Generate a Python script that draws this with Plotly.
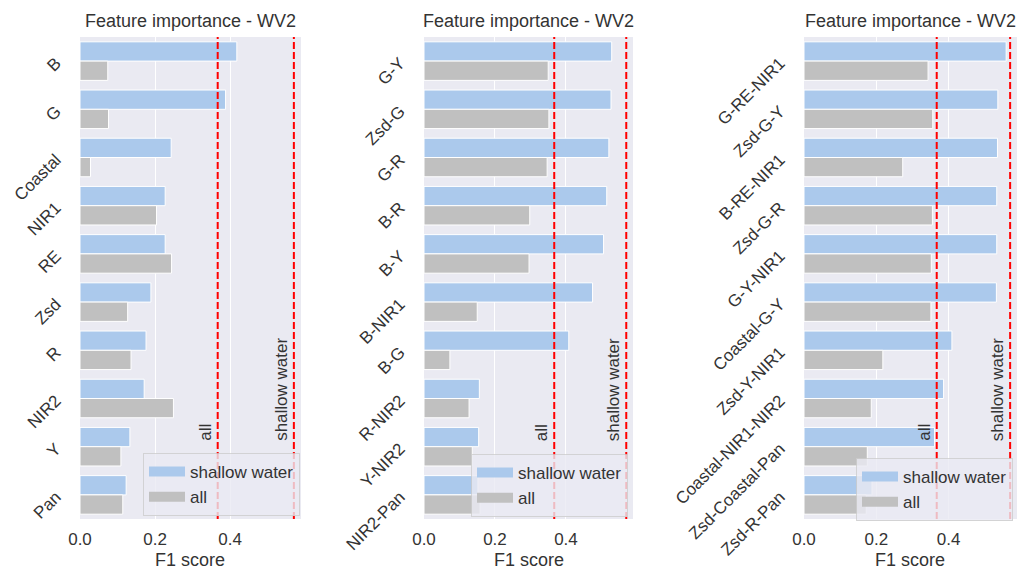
import plotly.graph_objects as go

# ---- data -------------------------------------------------------------
p1_features = ["B", "G", "Coastal", "NIR1", "RE", "Zsd", "R", "NIR2", "Y", "Pan"]
p1_shallow = [0.418, 0.388, 0.243, 0.227, 0.227, 0.189, 0.176, 0.171, 0.133, 0.123]
p1_all = [0.074, 0.076, 0.028, 0.204, 0.244, 0.127, 0.136, 0.249, 0.109, 0.114]

p2_features = ["G-Y", "Zsd-G", "G-R", "B-R", "B-Y", "B-NIR1", "B-G", "R-NIR2", "Y-NIR2", "NIR2-Pan"]
p2_shallow = [0.529, 0.527, 0.521, 0.515, 0.506, 0.475, 0.408, 0.156, 0.154, 0.152]
p2_all = [0.350, 0.352, 0.347, 0.298, 0.296, 0.150, 0.073, 0.127, 0.136, 0.158]

p3_features = ["G-RE-NIR1", "Zsd-G-Y", "B-RE-NIR1", "Zsd-G-R", "G-Y-NIR1", "Coastal-G-Y",
               "Zsd-Y-NIR1", "Coastal-NIR1-NIR2", "Zsd-Coastal-Pan", "Zsd-R-Pan"]
p3_shallow = [0.559, 0.536, 0.535, 0.533, 0.533, 0.532, 0.409, 0.386, 0.361, 0.188]
p3_all = [0.343, 0.356, 0.273, 0.355, 0.352, 0.351, 0.218, 0.186, 0.175, 0.172]

# baseline F1 scores (all-band model)
baseline_all = 0.367
baseline_shallow = 0.570

series_names = ["shallow water", "all"]
title_text = "Feature importance - WV2"
x_label = "F1 score"
x_ticks = [0.0, 0.2, 0.4]
x_tick_text = ["0.0", "0.2", "0.4"]

# ---- styling ----------------------------------------------------------
W, H = 1027, 571
FONT = "Liberation Sans, Arial, sans-serif"
TXT = "#333333"
BLUE = "#abc9ec"
GREY = "#c0c0c0"
BG = "#eaeaf2"
RED = "#ff0000"

# panel geometry in pixels: (left, right)
panels_px = [(80, 301), (424, 633), (804, 1017)]
top_px, bottom_px = 37, 519
legend_box = [(301, 517), (629, 518), (1014, 522)]  # right edge, bottom edge


def px_x(v):
    return v / W


def px_y(v):
    return 1 - v / H


panels = [
    (p1_features, p1_shallow, p1_all),
    (p2_features, p2_shallow, p2_all),
    (p3_features, p3_shallow, p3_all),
]

fig = go.Figure()
legend_ids = ["legend", "legend2", "legend3"]

for i, (feats, shallow, allv) in enumerate(panels):
    xa = "x" if i == 0 else f"x{i + 1}"
    ya = "y" if i == 0 else f"y{i + 1}"
    lg = legend_ids[i]
    for name, vals, col in [(series_names[0], shallow, BLUE), (series_names[1], allv, GREY)]:
        fig.add_trace(go.Bar(
            x=vals, y=feats, orientation="h", name=name,
            marker=dict(color=col, line=dict(color="white", width=1)),
            xaxis=xa, yaxis=ya, showlegend=False, offsetgroup=name,
        ))
        # wide patch-like legend entry
        fig.add_trace(go.Scatter(
            x=[None], y=[None], mode="lines", name=name,
            line=dict(color=col, width=11),
            xaxis=xa, yaxis=ya, showlegend=True, legend=lg,
        ))

    l, r = panels_px[i]
    dom_x = [px_x(l), px_x(r)]
    dom_y = [px_y(bottom_px), px_y(top_px)]
    axis_key = "xaxis" if i == 0 else f"xaxis{i + 1}"
    yaxis_key = "yaxis" if i == 0 else f"yaxis{i + 1}"
    fig.update_layout({
        axis_key: dict(
            domain=dom_x, anchor=ya, range=[0, 0.589], automargin=False,
            tickvals=x_ticks, ticktext=x_tick_text,
            showgrid=True, gridcolor="white", gridwidth=1.3, zeroline=False,
            showline=False, ticks="", ticklabelstandoff=8,
            tickfont=dict(family=FONT, size=17, color=TXT),
        ),
        yaxis_key: dict(
            domain=dom_y, anchor=xa, type="category", automargin=False,
            categoryorder="array", categoryarray=feats,
            range=[9.5, -0.5], showgrid=False, zeroline=False, showline=False,
            ticks="", tickangle=-45, ticklabelstandoff=23,
            tickfont=dict(family=FONT, size=17, color=TXT),
        ),
    })

    # panel background
    fig.add_shape(type="rect", xref="paper", yref="paper",
                  x0=dom_x[0], x1=dom_x[1], y0=dom_y[0], y1=dom_y[1],
                  fillcolor=BG, line=dict(width=0), layer="below")

    # baseline lines
    for v in (baseline_all, baseline_shallow):
        fig.add_shape(type="line", xref=xa, yref="paper", x0=v, x1=v,
                      y0=dom_y[0], y1=dom_y[1],
                      line=dict(color=RED, width=2, dash="7px,3px"), layer="above")
    for v, label in ((baseline_all, "all"), (baseline_shallow, "shallow water")):
        fig.add_annotation(x=v, xref=xa, y=px_y(443), yref="paper",
                           text=label, textangle=-90, showarrow=False,
                           xanchor="right", yanchor="bottom", xshift=-1,
                           font=dict(family=FONT, size=17, color=TXT))

    # title and x label
    cx = (dom_x[0] + dom_x[1]) / 2
    fig.add_annotation(x=cx, y=px_y(21), xref="paper", yref="paper", text=title_text,
                       showarrow=False, xanchor="center", yanchor="middle",
                       font=dict(family=FONT, size=18, color=TXT))
    fig.add_annotation(x=cx, y=px_y(560), xref="paper", yref="paper", text=x_label,
                       showarrow=False, xanchor="center", yanchor="middle",
                       font=dict(family=FONT, size=18, color=TXT))

    # legend for this panel
    rx, by = legend_box[i]
    fig.update_layout({lg: dict(
        x=px_x(rx - 1), y=px_y(by - 1), xanchor="right", yanchor="bottom",
        bgcolor="rgba(234,234,242,0.8)", bordercolor="rgba(204,204,204,0.8)",
        borderwidth=1, font=dict(family=FONT, size=17, color=TXT),
        itemwidth=36, tracegroupgap=0,
    )})

fig.update_layout(
    width=W, height=H, margin=dict(l=0, r=0, t=0, b=0, autoexpand=False),
    paper_bgcolor="white", plot_bgcolor="rgba(0,0,0,0)",
    barmode="group", bargap=0.2, bargroupgap=0.0,
    font=dict(family=FONT, color=TXT),
)

fig.write_html("out.html")
